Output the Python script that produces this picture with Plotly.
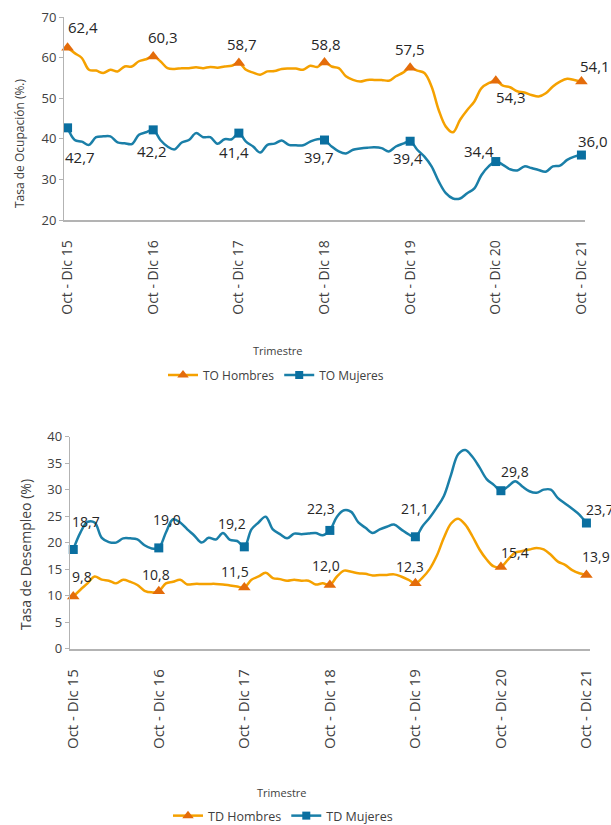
import plotly.graph_objects as go

# ---------------- data ----------------
periodos = ["Oct - Dic 15", "Oct - Dic 16", "Oct - Dic 17", "Oct - Dic 18",
            "Oct - Dic 19", "Oct - Dic 20", "Oct - Dic 21"]

# monthly rolling quarters, Oct-Dic 15 ... Oct-Dic 21 (73 points)
to_hombres = [62.4, 61.1, 59.9, 57.0, 56.8, 56.2, 57.0, 56.6, 57.8, 57.8, 59.1, 59.6,
              60.3, 59.1, 57.4, 57.2, 57.4, 57.4, 57.6, 57.4, 57.7, 57.5, 57.8, 58.0,
              58.7, 57.0, 56.3, 55.8, 56.6, 56.7, 57.2, 57.3, 57.3, 57.0, 58.0, 57.7,
              58.8, 57.8, 57.4, 55.4, 54.5, 54.1, 54.5, 54.5, 54.5, 54.3, 55.4, 56.3,
              57.5, 56.8, 56.2, 52.9, 47.1, 43.0, 41.6, 44.7, 47.1, 49.2, 52.5, 53.7,
              54.3, 53.1, 52.7, 51.7, 51.4, 50.8, 50.4, 51.2, 52.9, 54.1, 54.8, 54.5,
              54.1]
to_mujeres = [42.7, 39.7, 39.3, 38.5, 40.4, 40.6, 40.6, 39.1, 38.9, 38.7, 41.0, 41.6,
              42.2, 39.7, 38.1, 37.4, 39.1, 39.7, 41.4, 40.4, 40.4, 38.8, 39.9, 39.9,
              41.4, 39.3, 38.1, 36.6, 38.5, 38.8, 39.6, 38.5, 38.4, 38.4, 39.3, 39.9,
              39.7, 38.1, 36.9, 36.4, 37.3, 37.6, 37.8, 37.9, 37.7, 36.9, 38.1, 38.8,
              39.4, 37.3, 35.6, 33.2, 29.5, 26.6, 25.3, 25.3, 26.6, 27.8, 31.1, 33.2,
              34.4, 33.6, 32.5, 32.2, 33.2, 32.8, 32.3, 31.9, 33.2, 33.4, 34.8, 35.6,
              36.0]
td_hombres = [9.8, 11.1, 12.3, 13.6, 13.0, 12.8, 12.3, 13.0, 12.6, 12.0, 10.9, 10.6,
              10.8, 12.3, 12.6, 13.0, 12.1, 12.2, 12.2, 12.2, 12.2, 12.1, 11.9, 11.7,
              11.5, 13.0, 13.6, 14.3, 13.3, 13.1, 12.8, 13.0, 12.8, 12.8, 12.1, 12.3,
              12.0, 13.6, 14.7, 14.5, 14.2, 14.1, 13.8, 13.9, 13.9, 14.0, 13.6, 13.0,
              12.3, 13.4, 15.0, 17.5, 20.9, 23.6, 24.5, 23.4, 21.2, 18.7, 16.8, 15.5,
              15.4, 16.8, 18.1, 18.4, 18.7, 19.0, 18.7, 17.7, 16.4, 15.8, 14.8, 14.2,
              13.9]
td_mujeres = [18.7, 21.9, 23.9, 23.8, 20.9, 20.1, 20.0, 20.8, 20.8, 20.6, 19.5, 18.9,
              19.0, 21.9, 24.4, 23.8, 22.5, 21.3, 20.0, 20.9, 20.6, 21.8, 20.5, 20.3,
              19.2, 22.5, 23.8, 24.9, 22.5, 21.6, 20.8, 21.7, 21.6, 21.7, 21.8, 21.4,
              22.3, 24.9, 26.1, 25.8, 23.8, 22.8, 21.8, 22.5, 23.0, 23.4, 22.5, 21.6,
              21.1, 23.1, 24.7, 26.6, 28.8, 32.8, 36.7, 37.5, 36.2, 34.2, 32.0, 30.9,
              29.8, 30.6, 31.6, 30.6, 29.7, 29.4, 30.0, 30.0, 28.4, 27.4, 26.4, 25.3,
              23.7]

# ---------------- styles ----------------
FONT = "Open Sans"
C_LINE_O = "#F5A100"
C_MARK_O = "#E46C0A"
C_LINE_B = "#1A7FA8"
C_MARK_B = "#0A6FA0"
TXT = "#262626"
AX = "#404040"
AXLINE = "#b3b3b3"

x = list(range(len(to_hombres)))
tick_pos = [i * 12 for i in range(len(periodos))]

# label offsets (xshift, yshift) in px, per marker
off_to_h = [(15, 21), (10, 19), (3, 19), (1, 18), (0, 19), (15, -16), (14, 16)]
off_to_m = [(12, -29), (-1, -21), (-5, -19), (-6, -17), (-2, -17), (-17, 11), (12, 14)]
off_td_h = [(9, 20), (-3, 17), (-9, 16), (-4, 19), (-5, 17), (14, 14), (10, 18)]
off_td_m = [(13, 28), (8, 28), (-12, 23), (-9, 22), (0, 28), (14, 19), (14, 14)]

fig = go.Figure()


def add_series(vals, name, lc, mc, symbol, msize, xa, ya, legend, offs, lab_size):
    fig.add_trace(go.Scatter(
        x=x, y=vals, mode="lines", xaxis=xa, yaxis=ya, showlegend=False,
        line=dict(color=lc, width=2.5, shape="spline", smoothing=1.0),
        hoverinfo="skip"))
    fig.add_trace(go.Scatter(
        x=tick_pos, y=[vals[i] for i in tick_pos], mode="markers",
        xaxis=xa, yaxis=ya, showlegend=False, cliponaxis=False,
        marker=dict(symbol=symbol, size=msize, color=mc)))
    fig.add_trace(go.Scatter(
        x=[None], y=[None], mode="lines+markers", name=name, legend=legend,
        xaxis=xa, yaxis=ya,
        line=dict(color=lc, width=2.5),
        marker=dict(symbol=symbol, size=msize - 1, color=mc)))
    for (dx, dy), i in zip(offs, tick_pos):
        fig.add_annotation(
            x=i, y=vals[i], xref=xa, yref=ya, xshift=dx, yshift=dy,
            text=f"{vals[i]:.1f}".replace(".", ","), showarrow=False,
            xanchor="center", yanchor="middle",
            font=dict(family=FONT, size=lab_size, color=TXT))


add_series(to_hombres, "TO Hombres", C_LINE_O, C_MARK_O, "triangle-up", 11,
           "x", "y", "legend", off_to_h, 15)
add_series(to_mujeres, "TO Mujeres", C_LINE_B, C_MARK_B, "square", 9,
           "x", "y", "legend", off_to_m, 15)
add_series(td_hombres, "TD Hombres", C_LINE_O, C_MARK_O, "triangle-up", 11,
           "x2", "y2", "legend2", off_td_h, 14)
add_series(td_mujeres, "TD Mujeres", C_LINE_B, C_MARK_B, "square", 9,
           "x2", "y2", "legend2", off_td_m, 14)

# paper is a little taller than the 825px window so the bottom legend
# never forces plotly to push the margins (which would squeeze the plots)
W, H = 611, 840


def py(px):
    return 1 - px / H


xcommon = dict(range=[-0.5, 72.5], tickvals=tick_pos, ticktext=periodos,
               tickangle=-90, showline=True, linecolor=AXLINE, linewidth=1.5,
               showgrid=False, zeroline=False, ticks="outside",
               tickcolor="rgba(0,0,0,0)", automargin=False)
ycommon = dict(showline=True, linecolor=AXLINE, linewidth=1, showgrid=False,
               zeroline=False, ticks="outside", ticklen=4, tickcolor=AXLINE,
               automargin=False, tickfont=dict(family=FONT, size=13, color=AX))

fig.update_layout(
    width=W, height=H, template="none",
    paper_bgcolor="white", plot_bgcolor="white",
    margin=dict(l=0, r=0, t=0, b=0),
    xaxis=dict(domain=[64 / W, 585 / W], anchor="y", ticklen=13,
               tickfont=dict(family=FONT, size=14, color=AX), **xcommon),
    yaxis=dict(domain=[py(220), py(17)], anchor="x", range=[20, 70],
               dtick=10, **ycommon),
    xaxis2=dict(domain=[69.7 / W, 590 / W], anchor="y2", ticklen=13,
                tickfont=dict(family=FONT, size=15, color=AX), **xcommon),
    yaxis2=dict(domain=[py(648.5), py(436.7)], anchor="x2", range=[0, 40],
                dtick=5, **ycommon),
    legend=dict(orientation="h", x=276 / W, xanchor="center", y=py(375),
                yanchor="middle", font=dict(family=FONT, size=12, color=AX),
                bgcolor="rgba(0,0,0,0)", itemwidth=30, tracegroupgap=0),
    legend2=dict(orientation="h", x=283 / W, xanchor="center", y=py(816),
                 yanchor="middle", font=dict(family=FONT, size=12.5, color=AX),
                 bgcolor="rgba(0,0,0,0)", itemwidth=30),
    showlegend=True,
)

# axis titles
fig.add_annotation(text="Trimestre", xref="paper", yref="paper",
                   x=278 / W, y=py(350), showarrow=False,
                   xanchor="center", yanchor="middle",
                   font=dict(family=FONT, size=11, color=AX))
fig.add_annotation(text="Trimestre", xref="paper", yref="paper",
                   x=282 / W, y=py(792), showarrow=False,
                   xanchor="center", yanchor="middle",
                   font=dict(family=FONT, size=11, color=AX))
fig.add_annotation(text="Tasa de Ocupación (%.)", xref="paper", yref="paper",
                   x=19 / W, y=py(143), showarrow=False, textangle=-90,
                   xanchor="center", yanchor="middle",
                   font=dict(family=FONT, size=12, color=AX))
fig.add_annotation(text="Tasa de Desempleo (%)", xref="paper", yref="paper",
                   x=25 / W, y=py(555), showarrow=False, textangle=-90,
                   xanchor="center", yanchor="middle",
                   font=dict(family=FONT, size=14, color=AX))

fig.write_html("out.html", config={"displayModeBar": False},
               post_script=("document.documentElement.style.margin='0';"
                            "document.body.style.margin='0';"
                            "document.body.style.padding='0';"
                            "document.documentElement.style.overflow='hidden';"
                            "document.body.style.overflow='hidden';"))
